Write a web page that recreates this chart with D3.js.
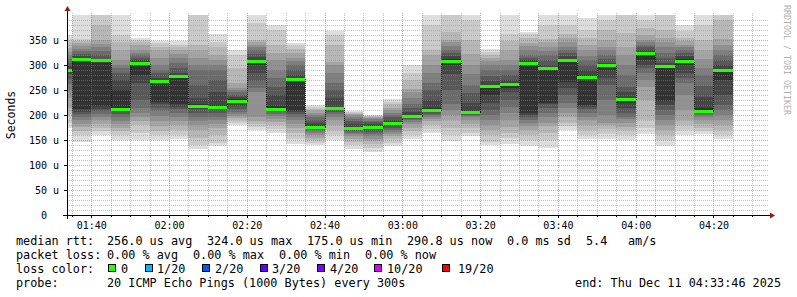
<!DOCTYPE html>
<html>
<head>
<meta charset="utf-8">
<script src="https://cdn.jsdelivr.net/npm/d3@7"></script>
<style>
  body { margin: 0; background: #fff; }
  text { font-family: "DejaVu Sans Mono", monospace; }
</style>
</head>
<body>
<div id="smoke"></div>
<script>
// size of svg
var svgWidth = 797;
var svgHeight = 297;

// plot area
var plotLeft = 67, plotRight = 767, plotTop = 15, plotBottom = 215;

// time window (utc so the labels don't move)
var startTime = Date.UTC(2025, 11, 11, 1, 33, 46);
var endTime = Date.UTC(2025, 11, 11, 4, 33, 46);
var firstBarEnd = Date.UTC(2025, 11, 11, 1, 35, 0);
var stepMs = 300 * 1000;

// median rtt per 5 min step (us)
var medians = [290, 312, 310, 213, 305, 268, 278, 218, 217, 229, 308, 213, 272, 177, 214, 175, 176, 184,
  198, 211, 308, 206, 258, 263, 304, 293, 310, 277, 299, 231, 324, 297, 308, 209, 291];

// the 20 sorted pings of every step (us)
var pings = [
  [175, 185, 200, 215, 235, 250, 262, 272, 282, 288, 292, 298, 305, 312, 320, 326, 334, 345, 352, 360],
  [147, 160, 168, 176, 183, 190, 196, 202, 207, 212, 312, 318, 323, 328, 333, 338, 343, 348, 352, 420],
  [160, 168, 175, 182, 190, 197, 203, 208, 212, 218, 305, 312, 320, 328, 335, 342, 350, 380, 405, 430],
  [150, 160, 168, 175, 182, 188, 195, 202, 208, 213, 250, 270, 285, 295, 300, 310, 330, 345, 360, 420],
  [150, 165, 180, 188, 195, 205, 215, 230, 265, 280, 305, 310, 315, 320, 325, 330, 340, 345, 350, 355],
  [150, 160, 168, 178, 188, 198, 208, 215, 222, 227, 268, 275, 285, 290, 300, 315, 330, 337, 343, 348],
  [153, 160, 170, 180, 188, 196, 205, 212, 217, 222, 278, 285, 295, 305, 315, 322, 330, 335, 340, 347],
  [133, 140, 155, 170, 180, 188, 195, 205, 212, 217, 222, 235, 260, 290, 300, 315, 330, 340, 410, 430],
  [137, 145, 160, 175, 183, 190, 197, 205, 212, 215, 220, 245, 270, 290, 300, 310, 320, 335, 345, 362],
  [180, 185, 190, 194, 198, 202, 207, 212, 218, 224, 233, 236, 240, 245, 250, 255, 265, 295, 320, 331],
  [170, 176, 182, 188, 195, 245, 255, 268, 285, 300, 310, 317, 323, 330, 335, 340, 345, 350, 383, 420],
  [165, 172, 180, 187, 193, 198, 203, 208, 212, 214, 218, 240, 257, 275, 290, 310, 325, 340, 370, 380],
  [143, 153, 165, 175, 183, 190, 197, 203, 206, 208, 272, 280, 290, 300, 308, 315, 325, 333, 338, 343],
  [140, 145, 150, 155, 160, 165, 168, 172, 175, 177, 180, 185, 190, 195, 200, 205, 210, 213, 217, 220],
  [150, 160, 170, 180, 190, 197, 203, 207, 210, 213, 217, 235, 250, 265, 285, 300, 307, 340, 360, 369],
  [133, 140, 147, 152, 157, 162, 165, 168, 171, 173, 177, 182, 188, 193, 197, 200, 202, 204, 206, 208],
  [127, 135, 143, 148, 153, 158, 162, 166, 170, 173, 177, 182, 186, 189, 192, 194, 196, 198, 199, 200],
  [137, 145, 153, 158, 163, 167, 170, 174, 178, 181, 186, 190, 195, 200, 205, 210, 215, 222, 227, 231],
  [153, 160, 168, 175, 182, 187, 190, 192, 194, 196, 200, 207, 215, 222, 235, 245, 253, 270, 285, 300],
  [165, 172, 180, 188, 193, 197, 200, 203, 206, 208, 214, 230, 250, 265, 285, 300, 320, 330, 380, 420],
  [149, 160, 175, 190, 200, 210, 223, 250, 283, 300, 312, 318, 325, 330, 338, 345, 350, 367, 405, 430],
  [157, 165, 175, 183, 190, 195, 198, 201, 203, 205, 210, 225, 243, 260, 283, 300, 323, 350, 390, 410],
  [140, 147, 160, 170, 180, 190, 200, 210, 225, 240, 260, 268, 278, 290, 300, 308, 315, 320, 327, 333],
  [143, 155, 165, 177, 190, 205, 217, 230, 245, 255, 265, 270, 280, 290, 300, 310, 330, 347, 363, 410],
  [137, 150, 160, 170, 178, 185, 190, 195, 200, 205, 305, 310, 315, 320, 330, 338, 343, 355, 362, 367],
  [135, 150, 165, 178, 185, 195, 205, 215, 222, 225, 295, 300, 310, 320, 328, 335, 345, 353, 380, 410],
  [170, 178, 185, 195, 205, 215, 225, 240, 255, 267, 312, 318, 325, 330, 337, 345, 355, 362, 380, 410],
  [153, 160, 170, 180, 190, 197, 205, 212, 217, 220, 280, 290, 300, 310, 318, 330, 340, 355, 370, 393],
  [153, 162, 172, 180, 185, 200, 230, 260, 275, 290, 300, 305, 312, 320, 330, 337, 350, 370, 390, 410],
  [150, 160, 170, 177, 185, 192, 197, 205, 215, 225, 233, 245, 257, 280, 300, 320, 335, 365, 410, 430],
  [163, 175, 190, 230, 257, 270, 285, 295, 300, 310, 325, 330, 335, 340, 345, 350, 360, 375, 390, 410],
  [137, 150, 160, 170, 180, 190, 200, 210, 220, 228, 298, 305, 315, 325, 337, 345, 355, 370, 410, 430],
  [160, 170, 180, 190, 210, 240, 265, 275, 285, 300, 312, 318, 325, 330, 335, 340, 348, 355, 368, 380],
  [162, 168, 175, 182, 190, 196, 200, 204, 207, 209, 215, 237, 258, 280, 295, 313, 330, 350, 380, 420],
  [153, 160, 170, 180, 190, 200, 210, 220, 240, 270, 292, 300, 310, 320, 330, 340, 353, 390, 410, 430]
];

// y ticks and legend bits
var yTicks = [0, 50, 100, 150, 200, 250, 300, 350];
var row1 = [["median rtt:", 16], ["256.0 us avg", 107], ["324.0 us max", 207], ["175.0 us min", 307],
  ["290.8 us now", 407], ["0.0 ms sd", 507], ["5.4", 586], ["am/s", 628]];
var row2 = [["packet loss:", 16], ["0.00 % avg", 107], ["0.00 % max", 193], ["0.00 % min", 279], ["0.00 % now", 365]];
var lossLabels = ["0", "1/20", "2/20", "3/20", "4/20", "10/20", "19/20"];
var lossColors = ["#26ff00", "#00b8ff", "#0059ff", "#5e00ff", "#7e00ff", "#dd00ff", "#ff0000"];
var lossSwatchX = [108, 145, 202, 260, 317, 374, 442];
var lossTextX = [121, 157, 215, 272, 330, 387, 458];

var svg = d3.select("#smoke")
  .append("svg")
  .attr("width", svgWidth)
  .attr("height", svgHeight)
  .style("display", "block");

svg.append("rect").attr("width", svgWidth).attr("height", svgHeight).attr("fill", "#fff");

// scales
var x = d3.scaleUtc().domain([startTime, endTime]).range([plotLeft, plotRight]);
var y = d3.scaleLinear().domain([0, 400]).range([plotBottom, plotTop]);

svg.append("clipPath").attr("id", "plotclip")
  .append("rect")
  .attr("x", plotLeft).attr("y", plotTop)
  .attr("width", plotRight - plotLeft).attr("height", plotBottom - plotTop);

// one record per step
var steps = medians.map(function(m, i) {
  var t1 = firstBarEnd + i * stepMs;
  return {
    x0: Math.round(x(Math.max(t1 - stepMs, startTime))),
    x1: Math.round(x(t1)),
    median: m,
    p: pings[i]
  };
});

// smoke: pair outer pings light, inner pings dark
var half = 10;
var bands = [];
steps.forEach(function(s) {
  for (var k = 1; k <= half; k++) {
    var c = Math.floor(190 / half * (half - k)) + 50;
    bands.push({ s: s, lo: s.p[k - 1], hi: s.p[20 - k], color: d3.rgb(c, c, c) });
  }
});

svg.append("g")
  .attr("clip-path", "url(#plotclip)")
  .attr("shape-rendering", "crispEdges")
  .selectAll("rect")
  .data(bands)
  .join("rect")
  .attr("x", d => d.s.x0)
  .attr("width", d => d.s.x1 - d.s.x0)
  .attr("y", d => Math.round(y(d.hi)))
  .attr("height", d => Math.round(y(d.lo)) - Math.round(y(d.hi)))
  .attr("fill", d => d.color);

// grid lines, drawn over the smoke
var grid = svg.append("g").attr("shape-rendering", "crispEdges");

var minorY = d3.range(10, 400, 10).filter(v => v % 50 !== 0);
grid.selectAll(".hminor")
  .data(minorY)
  .join("line")
  .attr("x1", plotLeft).attr("x2", plotRight + 2)
  .attr("y1", d => Math.round(y(d)) + 0.5).attr("y2", d => Math.round(y(d)) + 0.5)
  .attr("stroke", "rgba(140,140,140,0.5)")
  .attr("stroke-dasharray", "1,1");

var minorX = d3.utcMinute.every(5).range(new Date(startTime), new Date(endTime))
  .filter(t => t.getUTCMinutes() % 20 !== 0);
grid.selectAll(".vminor")
  .data(minorX)
  .join("line")
  .attr("x1", d => Math.round(x(d)) + 0.5).attr("x2", d => Math.round(x(d)) + 0.5)
  .attr("y1", plotTop - 2).attr("y2", plotBottom)
  .attr("stroke", "rgba(140,140,140,0.5)")
  .attr("stroke-dasharray", "1,1");

grid.selectAll(".hmajor")
  .data(yTicks.slice(1))
  .join("line")
  .attr("x1", plotLeft).attr("x2", plotRight + 2)
  .attr("y1", d => Math.round(y(d)) + 0.5).attr("y2", d => Math.round(y(d)) + 0.5)
  .attr("stroke", "rgba(222,80,80,0.55)")
  .attr("stroke-dasharray", "1,1");

var majorX = d3.utcMinute.every(20).range(new Date(startTime), new Date(endTime));
grid.selectAll(".vmajor")
  .data(majorX)
  .join("line")
  .attr("x1", d => Math.round(x(d)) + 0.5).attr("x2", d => Math.round(x(d)) + 0.5)
  .attr("y1", plotTop - 2).attr("y2", plotBottom)
  .attr("stroke", "rgba(222,80,80,0.55)")
  .attr("stroke-dasharray", "1,1");

// median: thin dark step line + green loss bars
var medLine = [];
steps.forEach(function(s) {
  medLine.push([s.x0, y(s.median)]);
  medLine.push([s.x1, y(s.median)]);
});
svg.append("path")
  .attr("d", d3.line().x(d => d[0] + 0.5).y(d => Math.round(d[1]) + 0.5)(medLine))
  .attr("fill", "none")
  .attr("stroke", "#202020")
  .attr("stroke-dasharray", "1,1")
  .attr("shape-rendering", "crispEdges");

svg.append("g")
  .attr("shape-rendering", "crispEdges")
  .selectAll("rect")
  .data(steps)
  .join("rect")
  .attr("x", d => d.x0)
  .attr("width", d => d.x1 - d.x0)
  .attr("y", d => Math.round(y(d.median)) - 1)
  .attr("height", 3)
  .attr("fill", lossColors[0]);

// axes
var xAxis = svg.append("g")
  .attr("transform", `translate(0, ${plotBottom})`)
  .call(d3.axisBottom(x).ticks(d3.utcMinute.every(20)).tickFormat(d3.utcFormat("%H:%M"))
    .tickSize(3).tickPadding(4));
var yAxis = svg.append("g")
  .attr("transform", `translate(${plotLeft}, 0)`)
  .call(d3.axisLeft(y).tickValues(yTicks).tickFormat(d => d ? d + " u" : "0")
    .tickSize(3).tickPadding(5));

[xAxis, yAxis].forEach(function(a) {
  a.select(".domain").remove();
  a.selectAll("line").attr("stroke", "#000").attr("shape-rendering", "crispEdges");
  a.selectAll("text")
    .attr("font-family", "DejaVu Sans Mono")
    .attr("font-size", 10)
    .attr("fill", "#000");
});
yAxis.selectAll(".tick").filter(d => d === 0).select("text").attr("x", -20);

// minor ticks below the time axis
svg.append("g").selectAll("line")
  .data(minorX)
  .join("line")
  .attr("x1", d => Math.round(x(d)) + 0.5).attr("x2", d => Math.round(x(d)) + 0.5)
  .attr("y1", plotBottom).attr("y2", plotBottom + 2)
  .attr("stroke", "#000")
  .attr("shape-rendering", "crispEdges");

// axis lines with arrows
svg.append("line")
  .attr("x1", plotLeft - 4).attr("x2", plotRight + 3)
  .attr("y1", plotBottom + 0.5).attr("y2", plotBottom + 0.5)
  .attr("stroke", "#000").attr("shape-rendering", "crispEdges");
svg.append("line")
  .attr("x1", plotLeft + 0.5).attr("x2", plotLeft + 0.5)
  .attr("y1", plotBottom + 4).attr("y2", plotTop - 5)
  .attr("stroke", "#000").attr("shape-rendering", "crispEdges");
svg.append("path")
  .attr("d", `M${plotRight + 8},${plotBottom + 0.5}L${plotRight + 3},${plotBottom - 2.5}L${plotRight + 3},${plotBottom + 3.5}Z`)
  .attr("fill", "#8b1c1c");
svg.append("path")
  .attr("d", `M${plotLeft + 0.5},${plotTop - 9}L${plotLeft - 2.5},${plotTop - 4}L${plotLeft + 3.5},${plotTop - 4}Z`)
  .attr("fill", "#8b1c1c");

// y label
svg.append("text")
  .attr("transform", `translate(15, ${(plotTop + plotBottom) / 2}) rotate(-90)`)
  .attr("text-anchor", "middle")
  .attr("font-size", 11.5)
  .text("Seconds");

// watermark
svg.append("text")
  .attr("transform", "translate(784, 5) rotate(90)")
  .attr("font-size", 8.3)
  .attr("fill", "#b0b0b0")
  .text("RRDTOOL / TOBI OETIKER");

// legend
var legend = svg.append("g").attr("font-size", 11.8).attr("fill", "#000");
legend.selectAll(".r1").data(row1).join("text")
  .attr("x", d => d[1]).attr("y", 245).text(d => d[0]);
legend.selectAll(".r2").data(row2).join("text")
  .attr("x", d => d[1]).attr("y", 259).text(d => d[0]);
legend.append("text").attr("x", 16).attr("y", 273).text("loss color:");
legend.selectAll(".sw").data(lossColors).join("rect")
  .attr("x", (d, i) => lossSwatchX[i] + 0.5).attr("y", 264.5)
  .attr("width", 7).attr("height", 7)
  .attr("fill", d => d)
  .attr("stroke", "#000");
legend.selectAll(".lt").data(lossLabels).join("text")
  .attr("x", (d, i) => lossTextX[i]).attr("y", 273).text(d => d);
legend.append("text").attr("x", 16).attr("y", 287).text("probe:");
legend.append("text").attr("x", 107).attr("y", 287).text("20 ICMP Echo Pings (1000 Bytes) every 300s");
legend.append("text").attr("x", 781).attr("y", 287).attr("text-anchor", "end")
  .text("end: Thu Dec 11 04:33:46 2025");
</script>
</body>
</html>
